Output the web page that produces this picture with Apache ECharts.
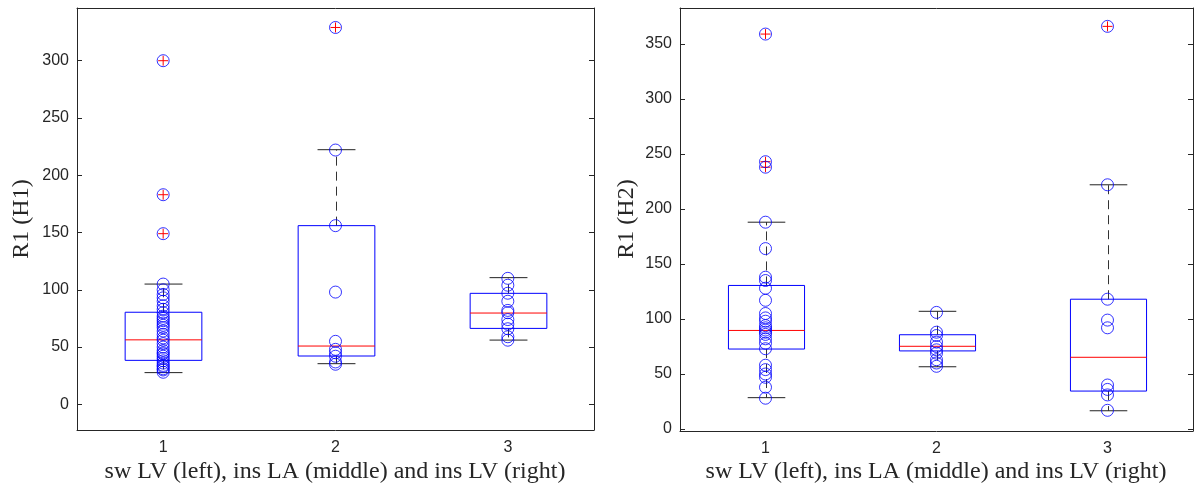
<!DOCTYPE html>
<html><head><meta charset="utf-8">
<script src="https://cdn.jsdelivr.net/npm/echarts@6/dist/echarts.min.js"></script>
<style>html,body{margin:0;padding:0;background:#fff}#c{width:1198px;height:490px}</style>
</head><body><div id="c"></div>
<script>
const categories = ['1', '2', '3'];
const yTicksH1 = [0, 50, 100, 150, 200, 250, 300];
const yTicksH2 = [0, 50, 100, 150, 200, 250, 300, 350];

// Left panel: R1 (H1) — individual observations per group
const h1Group1 = [28, 30, 31, 33, 34, 36, 38, 40, 42, 44, 45, 47, 50, 53, 56, 58, 61, 64, 67, 69, 71, 73, 75, 77, 80, 83, 86, 90, 93, 96, 100, 105, 149, 183, 300];
const h1Group2 = [35, 37, 42, 45, 48, 55, 98, 156, 222, 329];
const h1Group3 = [56, 59, 66, 70, 74, 80, 82, 90, 97, 104, 110];
// box stats: [whiskerLow, Q1, median, Q3, whiskerHigh]
const h1Box = [[27.7, 38.4, 56.3, 80.4, 105], [35.5, 42.2, 50.9, 156, 222.3], [56.1, 66.3, 79.7, 96.9, 110.6]];
const h1Outliers = [[300, 183, 149], [329], []];

// Right panel: R1 (H2)
const h2Group1 = [28, 38, 47, 50, 54, 58, 73, 78, 82, 86, 88, 90, 92, 94, 98, 101, 105, 117, 128, 135, 138, 164, 188, 238, 243, 359];
const h2Group2 = [57, 60, 63, 69, 72, 75, 79, 85, 88, 106];
const h2Group3 = [17, 31, 36, 40, 92, 99, 118, 222, 366];
const h2Box = [[28.5, 72.7, 89.6, 130.5, 188], [56.6, 71, 75.2, 85.7, 107], [16.6, 34.5, 65.2, 118, 222]];
const h2Outliers = [[359, 243, 238], [], [366]];

const AX = '#262626';
const labelFont = {color: AX, fontFamily: 'Liberation Sans, Arial, sans-serif', fontSize: 16};

function toScatter(groups) {
  const out = [];
  groups.forEach((g, i) => g.forEach(v => out.push([i, v])));
  return out;
}
function toBox(box) { return box.map((b, i) => [i].concat(b)); }
function toOut(outs) {
  const out = [];
  outs.forEach((g, i) => g.forEach(v => out.push([i, v])));
  return out;
}

function renderBox(params, api) {
  const i = api.value(0);
  const band = api.size([1, 0])[0];
  const bw = band * 0.445, cw = band * 0.22;
  const lo = api.coord([i, api.value(1)]);
  const q1 = api.coord([i, api.value(2)]);
  const md = api.coord([i, api.value(3)]);
  const q3 = api.coord([i, api.value(4)]);
  const hi = api.coord([i, api.value(5)]);
  const x = Math.round(lo[0]) + 0.5;
  const dashed = {stroke: '#333', lineWidth: 1, lineDash: [9, 6]};
  const cap = {stroke: '#222', lineWidth: 1};
  return {type: 'group', children: [
    {type: 'line', shape: {x1: x, y1: q3[1], x2: x, y2: hi[1]}, style: dashed},
    {type: 'line', shape: {x1: x, y1: q1[1], x2: x, y2: lo[1]}, style: dashed},
    {type: 'line', shape: {x1: x - cw / 2, y1: hi[1], x2: x + cw / 2, y2: hi[1]}, style: cap},
    {type: 'line', shape: {x1: x - cw / 2, y1: lo[1], x2: x + cw / 2, y2: lo[1]}, style: cap},
    {type: 'rect', shape: {x: x - bw / 2, y: q3[1], width: bw, height: q1[1] - q3[1]}, style: {fill: 'none', stroke: '#0000ff', lineWidth: 1}},
    {type: 'line', shape: {x1: x - bw / 2, y1: md[1], x2: x + bw / 2, y2: md[1]}, style: {stroke: '#ff0000', lineWidth: 1}}
  ]};
}
function renderPlus(params, api) {
  const p = api.coord([api.value(0), api.value(1)]);
  const s = 5;
  return {type: 'group', children: [
    {type: 'line', shape: {x1: p[0] - s, y1: p[1], x2: p[0] + s, y2: p[1]}, style: {stroke: '#ff0000', lineWidth: 1}},
    {type: 'line', shape: {x1: p[0], y1: p[1] - s, x2: p[0], y2: p[1] + s}, style: {stroke: '#ff0000', lineWidth: 1}}
  ]};
}

function xAxes(gi) {
  return [
    {type: 'category', gridIndex: gi, data: categories, position: 'bottom',
     axisLine: {onZero: false, lineStyle: {color: AX, width: 1}}, axisTick: {inside: true, length: 5, alignWithLabel: true, lineStyle: {color: AX}},
     axisLabel: Object.assign({margin: 10}, labelFont), splitLine: {show: false}},
    {type: 'category', gridIndex: gi, data: categories, position: 'top',
     axisLine: {onZero: false, lineStyle: {color: AX, width: 1}}, axisTick: {inside: true, length: 5, alignWithLabel: true, lineStyle: {color: AX}},
     axisLabel: {show: false}, splitLine: {show: false}}
  ];
}
function yAxes(gi, min, max, ticks) {
  return [
    {type: 'value', gridIndex: gi, min: min, max: max, position: 'left',
     axisLine: {show: true, onZero: false, lineStyle: {color: AX, width: 1}},
     axisTick: {show: true, inside: true, length: 5, customValues: ticks, lineStyle: {color: AX}},
     axisLabel: Object.assign({margin: 8, customValues: ticks}, labelFont), splitLine: {show: false}},
    {type: 'value', gridIndex: gi, min: min, max: max, position: 'right',
     axisLine: {show: true, onZero: false, lineStyle: {color: AX, width: 1}},
     axisTick: {show: true, inside: true, length: 5, customValues: ticks, lineStyle: {color: AX}},
     axisLabel: {show: false}, splitLine: {show: false}}
  ];
}

const circleStyle = {color: 'rgba(0,0,0,0)', borderColor: '#0000ff', borderWidth: 1, opacity: 0.8};
const titleFont = '24px "Liberation Serif", "Times New Roman", serif';

const option = {
  animation: false,
  backgroundColor: '#fff',
  grid: [
    {left: 77, right: 1198 - 594, top: 8, bottom: 490 - 430},
    {left: 680, right: 1198 - 1193, top: 8, bottom: 490 - 431}
  ],
  xAxis: xAxes(0).concat(xAxes(1)),
  yAxis: yAxes(0, -22.4, 346, yTicksH1).concat(yAxes(1, -1.8, 382.7, yTicksH2)),
  series: [
    {type: 'custom', xAxisIndex: 0, yAxisIndex: 0, renderItem: renderBox, data: toBox(h1Box), encode: {x: 0, y: [1, 2, 3, 4, 5]}},
    {type: 'custom', xAxisIndex: 0, yAxisIndex: 0, renderItem: renderPlus, data: toOut(h1Outliers), encode: {x: 0, y: 1}},
    {type: 'scatter', xAxisIndex: 0, yAxisIndex: 0, symbol: 'circle', symbolSize: 12, itemStyle: circleStyle, data: toScatter([h1Group1, h1Group2, h1Group3])},
    {type: 'custom', xAxisIndex: 2, yAxisIndex: 2, renderItem: renderBox, data: toBox(h2Box), encode: {x: 0, y: [1, 2, 3, 4, 5]}},
    {type: 'custom', xAxisIndex: 2, yAxisIndex: 2, renderItem: renderPlus, data: toOut(h2Outliers), encode: {x: 0, y: 1}},
    {type: 'scatter', xAxisIndex: 2, yAxisIndex: 2, symbol: 'circle', symbolSize: 12, itemStyle: circleStyle, data: toScatter([h2Group1, h2Group2, h2Group3])}
  ],
  graphic: [
    {type: 'text', x: 22, y: 219, rotation: Math.PI / 2, style: {text: 'R1 (H1)', font: titleFont, fill: AX, textAlign: 'center', textVerticalAlign: 'middle'}},
    {type: 'text', x: 627, y: 219, rotation: Math.PI / 2, style: {text: 'R1 (H2)', font: titleFont, fill: AX, textAlign: 'center', textVerticalAlign: 'middle'}},
    {type: 'text', x: 335, y: 472, style: {text: 'sw LV (left), ins LA (middle) and ins LV (right)', font: titleFont, fill: AX, textAlign: 'center', textVerticalAlign: 'middle'}},
    {type: 'text', x: 936, y: 472, style: {text: 'sw LV (left), ins LA (middle) and ins LV (right)', font: titleFont, fill: AX, textAlign: 'center', textVerticalAlign: 'middle'}}
  ]
};
const chart = echarts.init(document.getElementById('c'), null, {renderer: 'canvas'});
chart.setOption(option);
</script></body></html>
